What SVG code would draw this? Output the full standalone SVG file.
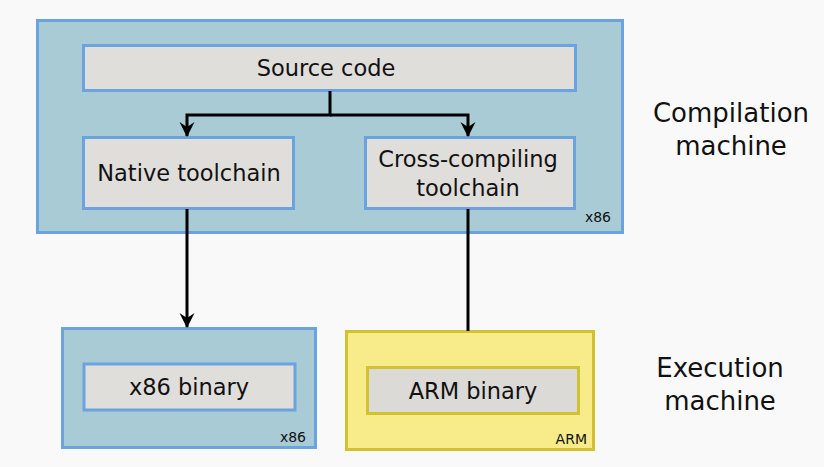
<svg xmlns="http://www.w3.org/2000/svg" width="824" height="467" viewBox="0 0 824 467">
<style>
.host{fill:#a8cbd6;stroke:#6aa3de;stroke-width:3}
.arm{fill:#f7eb8a;stroke:#d2c232;stroke-width:3}
.box{fill:#e0dedb;stroke:#6aa3de;stroke-width:3}
.boxy{fill:#dcdad6;stroke:#d2c232;stroke-width:3}
text{font-family:"DejaVu Sans",sans-serif;fill:#111}
.t{font-size:22.5px;text-anchor:middle}
.s{font-size:14px;text-anchor:end}
.l{font-size:26px;text-anchor:middle}
.c{fill:none;stroke:#000;stroke-width:3}
</style>
<defs>
<marker id="ah" markerWidth="16" markerHeight="16" refX="14" refY="8" orient="auto" markerUnits="userSpaceOnUse" viewBox="0 0 16 16">
<path d="M0,0.5 L5,8 L0,15.5 L15,8 Z" fill="#000"/>
</marker>
</defs>
<rect width="824" height="467" fill="#f9f9f9"/>
<g id="compilation-machine">
<rect class="host" x="37.5" y="20.5" width="585" height="212"/>
<text class="s" x="611" y="222">x86</text>
</g>
<g id="source-code">
<rect class="box" x="83.5" y="45.5" width="492" height="45"/>
<text class="t" x="326" y="76">Source code</text>
</g>
<g id="native-toolchain">
<rect class="box" x="83.5" y="137.5" width="210" height="71"/>
<text class="t" x="189" y="181">Native toolchain</text>
</g>
<g id="cross-toolchain">
<rect class="box" x="365.5" y="137.5" width="209" height="71"/>
<text class="t" x="468" y="167">Cross-compiling</text>
<text class="t" x="468" y="196">toolchain</text>
</g>
<g id="x86-machine">
<rect class="host" x="62.5" y="328.5" width="253" height="119"/>
<text class="s" x="306" y="442">x86</text>
</g>
<g id="x86-binary">
<rect class="box" x="84" y="364" width="211" height="46"/>
<text class="t" x="189" y="395">x86 binary</text>
</g>
<g id="arm-machine">
<rect class="arm" x="346.5" y="331.5" width="247" height="118"/>
<text class="s" x="587" y="444">ARM</text>
</g>
<g id="arm-binary">
<rect class="boxy" x="367.5" y="367.5" width="211" height="46"/>
<text class="t" x="473" y="399">ARM binary</text>
</g>
<g id="labels">
<text class="l" x="731" y="122">Compilation</text>
<text class="l" x="731" y="155">machine</text>
<text class="l" x="720" y="377">Execution</text>
<text class="l" x="720" y="410">machine</text>
</g>
<g id="connectors">
<path class="c" d="M330,91 V115 H187 V136" marker-end="url(#ah)"/>
<path class="c" d="M330,115 H468 V136" marker-end="url(#ah)"/>
<path class="c" d="M187,209 V327" marker-end="url(#ah)"/>
<path class="c" d="M468,209 V331"/>
</g>
</svg>
